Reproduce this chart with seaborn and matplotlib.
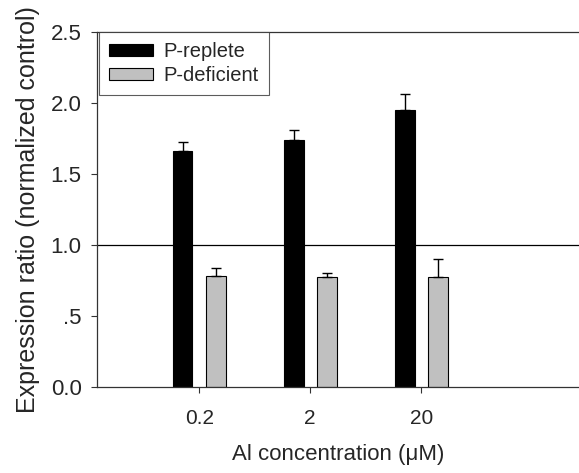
"""Expression ratio of P-replete vs P-deficient plants across Al concentrations."""

import matplotlib
matplotlib.use("Agg")
import matplotlib.pyplot as plt
import numpy as np
import pandas as pd
import seaborn as sns

# Data
concentrations = ["0.2", "2", "20"]
treatments = ["P-replete", "P-deficient"]
replete_mean = [1.66, 1.74, 1.95]
replete_err = [0.065, 0.07, 0.115]
deficient_mean = [0.785, 0.772, 0.777]
deficient_err = [0.055, 0.033, 0.124]
y_ticks = [0.0, 0.5, 1.0, 1.5, 2.0, 2.5]
y_tick_labels = ["0.0", ".5", "1.0", "1.5", "2.0", "2.5"]

sns.set_theme(style="white")
plt.rcParams["font.family"] = ["Liberation Sans", "DejaVu Sans"]

df = pd.DataFrame({
    "conc": concentrations * 2,
    "treatment": [treatments[0]] * 3 + [treatments[1]] * 3,
    "value": replete_mean + deficient_mean,
    "err": replete_err + deficient_err,
})

fig = plt.figure(figsize=(5.79, 4.73), dpi=100)
ax = fig.add_axes([0.1675, 0.1818, 0.8325, 0.7505])

sns.barplot(
    data=df, x="conc", y="value", hue="treatment",
    order=concentrations, hue_order=treatments,
    palette=["black", "#c0c0c0"], width=0.6, gap=0.4,
    errorbar=None, edgecolor="black", linewidth=0.8, ax=ax,
)

# upper-only error bars, placed on the bar centres seaborn produced
for container, treat in zip(ax.containers, treatments):
    sub = df[df["treatment"] == treat]
    xs = [p.get_x() + p.get_width() / 2 for p in container.patches]
    ax.errorbar(
        xs, sub["value"], yerr=[np.zeros(len(sub)), sub["err"]],
        fmt="none", ecolor="black", elinewidth=1, capsize=3.6, capthick=1,
    )

ax.axhline(1.0, color="black", linewidth=0.9, zorder=0.5)

ax.set_xlim(-0.92, 3.42)
ax.set_ylim(0, 2.5)
ax.set_yticks(y_ticks)
ax.set_yticklabels(y_tick_labels)
ax.tick_params(axis="both", direction="out", length=4,
               width=0.8, color="#333333", left=True, bottom=True)
ax.tick_params(axis="y", labelsize=16, pad=7)
ax.tick_params(axis="x", labelsize=15, pad=12)

for side in ["left", "bottom", "top"]:
    ax.spines[side].set_color("#333333")
    ax.spines[side].set_linewidth(0.9)
ax.spines["right"].set_visible(False)

ax.set_xlabel("Al concentration (μM)", fontsize=16, labelpad=11)
ax.set_ylabel("Expression ratio (normalized control)", fontsize=18, labelpad=8)

leg = ax.legend(
    loc="upper left", bbox_to_anchor=(0.004, 1.0), fontsize=14.5,
    frameon=True, fancybox=False, edgecolor="#333333",
    handlelength=2.2, handleheight=0.5, handletextpad=0.5,
    borderpad=0.5, labelspacing=0.25, borderaxespad=0.0,
)
leg.get_frame().set_linewidth(0.8)

fig.savefig("out.png", dpi=100)
